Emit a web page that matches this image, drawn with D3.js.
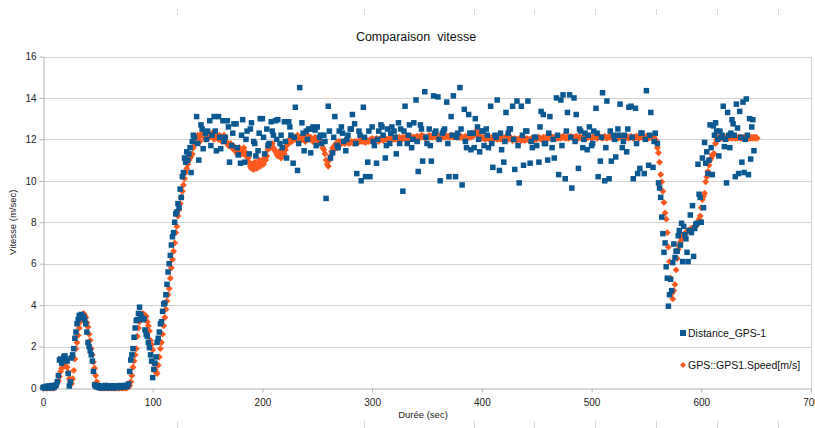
<!DOCTYPE html>
<html>
<head>
<meta charset="utf-8">
<script src="https://cdn.jsdelivr.net/npm/d3@7/dist/d3.min.js"></script>
<style>
  html, body { margin: 0; padding: 0; background: #fff; }
  svg { display: block; font-family: "Liberation Sans", Arial, sans-serif; }
</style>
</head>
<body>
<svg id="chart" width="815" height="428"></svg>
<script>
// Series names and tick labels
var seriesNames = ["Distance_GPS-1", "GPS::GPS1.Speed[m/s]"];
var xTicks = [0, 100, 200, 300, 400, 500, 600, 700];
var yTicks = [0, 2, 4, 6, 8, 10, 12, 14, 16];

// Distance_GPS-1 : start phase, one sample per second, t = 0..135
var distStart = [
  0.02,0.05,0,0.08,0.03,0.1,0.05,0,0.12,0.06,
  0.02,0.1,0.15,0.3,0.6,1.35,1.4,1.2,1.35,1.5,
  1.55,1.4,1.3,0.7,0.1,0.3,1.45,1.6,1.9,2.4,
  2.7,3.1,3.3,3.5,3.5,3.55,3.4,3.45,3.3,3.1,
  2.7,2.2,2.0,1.8,1.6,1.3,0.8,0.15,0.1,0.05,
  0.12,0.02,0.08,0,0.1,0.05,0.03,0.12,0,0.07,
  0.1,0.02,0.05,0.11,0,0.08,0.04,0.1,0.02,0.06,
  0.12,0.03,0.08,0.1,0.05,0.13,0.07,0.1,0.2,0.8,
  1.35,1.6,1.9,2.45,2.9,3.25,3.3,3.6,3.9,3.55,
  3.4,3.3,3.35,2.8,2.6,2.5,2.2,1.95,1.6,1.3,
  0.5,0.9,1.2,1.5,2.2,2.4,2.7,3.1,3.2,3.7,
  4.05,4.1,4.5,5.0,5.6,6.0,6.4,6.9,7.3,7.5,
  8.0,8.4,8.5,8.9,8.7,9.6,9.2,10.2,10.4,11.1,
  10.9,11.4,11.0,11.3,11.6,10.4
];

// Distance_GPS-1 : cruise, one sample every 2 s, t = 136..558
var distCruise = [
  11.9,12.1,
  13.1,11.0,12.7,11.55,12.3,
  12.4,12.9,12.2,13.1,11.45,
  13.1,11.55,12.9,12.1,12.9,
  10.9,11.7,12.75,12.75,11.25,
  10.85,12.95,10.9,12.4,11.3,
  12.8,11.9,11.2,11.45,13.0,
  13.0,11.3,12.5,11.8,12.85,
  12.2,12.9,12.95,11.8,11.6,
  12.85,11.1,12.85,12.2,10.85,
  13.55,10.5,14.5,12.8,11.45,
  12.4,12.5,11.35,12.6,12.45,
  12.6,12.1,11.8,12.2,9.15,
  13.6,11.1,11.35,13.1,11.7,
  12.4,12.6,11.9,11.45,12.2,
  12.5,13.2,12.75,10.35,12.4,
  10.0,13.55,10.2,10.9,10.2,
  12.6,11.7,10.85,12.4,12.7,
  12.2,11.1,12.5,11.8,12.6,
  12.4,11.3,12.8,12.5,9.5,
  13.6,11.8,12.7,11.6,12.8,
  13.9,10.45,12.7,10.95,14.3,
  11.8,12.5,10.95,14.1,12.4,
  14.05,10.0,12.3,12.5,13.8,
  10.2,13.1,14.1,10.2,12.3,
  14.5,9.8,13.45,11.6,13.2,
  11.5,12.3,13.0,12.6,11.4,
  12.4,11.7,12.5,11.6,13.6,
  10.65,12.2,13.9,10.5,11.5,
  10.9,13.3,12.3,12.5,13.6,
  10.55,13.85,9.9,13.6,10.75,
  12.4,13.85,10.85,11.6,12.1,
  11.7,10.9,13.35,13.2,11.8,
  11.0,13.1,11.6,11.1,14.0,
  10.3,13.9,14.15,10.1,13.3,
  14.15,9.65,14.0,13.2,10.6,
  12.4,11.6,12.3,11.5,12.6,
  11.7,12.4,13.5,10.2,10.95,
  14.25,10.0,13.85,10.1,10.95,
  12.2,11.15,12.5,13.7,11.6,
  12.2,11.4,13.55,13.6,10.1,
  13.5,10.35,10.6,12.3,10.35,
  14.35,10.75,13.3,10.65,12.3
];

// Distance_GPS-1 : extra cruise samples at odd seconds, every 4 s, t = 137..557
var distCruiseOdd = [
  12.2,11.8,12.5,12.0,11.7,12.4,12.1,11.9,12.6,12.3,
  11.6,12.2,12.0,12.5,11.8,12.3,12.1,11.7,12.4,12.0,
  12.2,11.9,12.6,12.1,11.8,12.3,12.0,12.5,11.7,12.2,
  11.9,12.4,12.1,11.6,12.3,12.0,12.5,11.8,12.2,12.1,
  12.4,11.9,12.0,12.6,11.7,12.3,12.1,11.8,12.4,12.2,
  12.0,11.9,12.5,12.1,11.7,12.3,12.0,12.4,11.8,12.2,
  12.1,12.5,11.9,12.3,11.6,12.0,12.4,12.2,11.8,12.1,
  12.3,11.9,12.5,12.0,11.7,12.2,12.4,11.9,12.1,12.6,
  11.8,12.3,12.0,12.2,11.7,12.4,12.1,11.9,12.5,12.0,
  12.2,11.8,12.3,12.1,11.6,12.4,12.0,12.2,11.9,12.5,
  12.1,11.8,12.3,12.0,12.2,11.9
];

// Distance_GPS-1 : slowdown and restart, one sample per second, t = 560..648
var distEnd = [
  11.8,9.9,9.65,9.2,8.25,7.45,6.55,7.0,5.85,5.3,
  3.95,4.5,5.25,4.7,6.05,6.95,6.3,6.6,6.6,7.35,
  7.6,6.9,7.95,6.1,7.8,7.4,7.2,6.55,6.1,7.6,
  8.35,7.5,8.8,6.35,7.7,7.9,7.95,10.8,9.35,9.2,
  8.0,11.1,8.7,11.85,10.85,11.4,10.35,11.0,12.7,11.6,
  10.3,12.65,12.2,12.8,12.4,12.0,11.2,12.4,12.1,12.2,
  13.6,11.65,12.0,9.9,13.3,12.2,11.6,12.3,12.95,12.75,
  12.2,10.2,13.7,12.55,10.35,13.35,12.1,10.9,13.8,10.4,
  12.0,13.95,12.2,10.3,13.0,11.05,12.6,12.95,11.45
];

// GPS::GPS1.Speed[m/s], one sample per second, t = 0..651
var gpsSpeed = [
  0,0,0.02,0,0,0.03,0,0,0.04,0,
  0,0.05,0.15,0.25,0.35,0.55,0.8,0.95,1.0,1.05,
  1.1,1.05,1.0,0.75,0.45,0.3,0.2,0.45,0.85,1.4,
  1.9,2.2,2.55,2.9,3.2,3.45,3.55,3.6,3.5,3.4,
  3.15,2.95,2.6,2.3,1.9,1.6,1.25,0.95,0.6,0.3,
  0.1,0.02,0,0,0.01,0,0,0.02,0,0,
  0,0.01,0,0,0.02,0,0,0,0.01,0,
  0,0.02,0,0,0.01,0,0,0.03,0.05,0.12,
  0.3,0.6,1.0,1.3,1.6,1.9,2.5,2.9,3.2,3.4,
  3.55,3.6,3.55,3.5,3.45,3.2,3.0,2.75,2.3,2.1,
  1.85,1.2,0.9,0.75,0.7,1.1,1.5,1.9,2.2,2.6,
  3.0,3.4,3.8,4.2,4.5,4.8,5.3,5.8,6.2,6.6,
  7.0,7.5,7.8,8.3,8.6,8.9,9.2,9.5,9.8,10.1,
  10.4,10.6,10.8,11.0,11.1,11.2,11.3,11.6,11.8,12.0,
  12.1,12.2,12.1,11.9,12.2,12.3,12.2,12.1,12.0,12.2,
  12.3,12.2,12.1,12.2,12.3,12.2,12.0,12.1,12.2,12.1,
  12.0,12.2,12.1,11.9,12.0,12.2,12.1,11.9,11.8,11.7,
  11.7,11.8,11.6,11.7,11.5,11.6,11.4,11.3,11.5,11.6,
  11.4,11.3,11.5,11.6,11.4,11.2,11.3,11.1,10.9,10.7,
  10.6,10.8,10.55,10.9,10.7,10.6,10.8,11.0,10.7,10.9,
  11.0,10.8,11.1,11.0,11.2,11.5,11.7,11.6,11.7,11.8,
  11.6,11.5,11.4,11.3,11.2,11.4,11.3,11.1,11.2,11.4,
  11.3,11.5,11.7,11.9,11.8,12.0,12.1,11.9,12.0,12.1,
  12.0,12.1,12.2,12.0,11.9,12.0,12.1,12.2,12.0,11.9,
  12.1,12.2,12.1,12.0,12.1,12.0,11.9,12.0,12.1,12.0,
  12.0,11.9,12.0,11.9,11.8,11.6,11.5,11.3,11.0,10.8,
  10.7,11.0,11.2,11.4,11.6,11.5,11.7,11.8,11.6,11.9,
  11.85,11.9,11.8,11.85,11.9,11.8,11.85,11.9,11.85,11.8,
  11.85,11.9,11.85,11.8,11.9,11.85,11.9,11.85,11.9,11.95,
  11.9,11.95,11.9,11.95,11.85,11.9,11.95,11.9,11.95,12.0,
  12.05,12.0,11.95,12.0,12.05,12.0,11.9,12.0,12.05,12.0,
  11.95,12.0,12.05,12.0,12.0,11.95,12.05,12.0,12.1,12.0,
  12.05,12.0,12.1,12.05,12.0,12.1,12.05,12.0,12.1,12.05,
  12.1,12.05,12.1,12.0,12.1,12.15,12.05,12.1,12.1,12.05,
  12.1,12.15,12.1,12.05,12.1,12.2,12.1,12.15,12.1,12.05,
  12.1,12.15,12.2,12.1,12.15,12.1,12.2,12.15,12.1,12.15,
  12.2,12.1,12.15,12.2,12.1,12.15,12.1,12.2,12.15,12.1,
  12.15,12.1,12.2,12.15,12.1,12.15,12.2,12.1,12.15,12.1,
  12.1,12.15,12.1,12.05,12.1,12.15,12.1,12.05,12.1,12.15,
  12.1,12.2,12.15,12.25,12.3,12.4,12.35,12.2,12.1,12.05,
  12.1,12.05,12.1,12.0,12.05,12.1,12.05,12.0,12.05,12.1,
  12.05,12.0,12.1,12.05,12.0,12.05,12.1,12.0,12.05,12.0,
  12.05,12.1,12.0,12.05,12.0,12.05,12.1,12.0,11.95,12.0,
  12.05,12.0,11.95,12.0,12.05,12.0,11.95,12.0,12.0,11.95,
  12.0,12.05,12.0,11.95,12.0,12.05,12.0,11.95,12.0,12.05,
  12.0,12.05,12.1,12.05,12.0,12.05,12.1,12.05,12.1,12.05,
  12.1,12.05,12.1,12.15,12.05,12.1,12.05,12.1,12.05,12.1,
  12.05,12.1,12.05,12.1,12.15,12.1,12.05,12.1,12.1,12.05,
  12.1,12.15,12.1,12.05,12.1,12.1,12.15,12.1,12.05,12.1,
  12.1,12.05,12.1,12.15,12.1,12.05,12.1,12.1,12.15,12.1,
  12.05,12.1,12.1,12.15,12.1,12.05,12.1,12.15,12.1,12.1,
  12.05,12.1,12.15,12.1,12.05,12.1,12.1,12.15,12.1,12.05,
  12.1,12.1,12.15,12.1,12.05,12.1,12.15,12.1,12.1,12.05,
  12.1,12.15,12.1,12.1,12.05,12.1,12.15,12.1,12.05,12.1,
  12.1,12.15,12.1,12.05,12.1,12.15,12.1,12.1,12.05,12.1,
  12.15,12.1,12.05,12.1,12.1,12.1,12.05,12.1,12.0,11.9,
  11.6,11.35,10.9,10.3,9.95,9.5,8.95,8.45,8.15,7.5,
  6.8,6.1,5.3,4.55,4.3,4.7,5.0,5.7,6.25,6.7,
  6.9,7.05,7.2,7.35,7.4,7.45,7.5,7.55,7.6,7.6,
  7.65,7.7,7.7,7.75,7.8,7.8,7.9,8.0,8.15,8.3,
  8.7,9.1,9.25,9.4,9.95,10.2,10.45,10.75,11.0,11.1,
  11.25,11.3,11.3,11.8,12.0,12.1,12.05,12.1,12.05,12.1,
  12.05,12.1,12.1,12.05,12.1,12.05,12.1,12.1,12.05,12.1,
  12.1,12.05,12.1,12.05,12.1,12.1,12.05,12.1,12.05,12.1,
  12.1,12.05,12.1,12.05,12.1,12.05,12.1,12.05,12.1,12.05,
  12.1,12.05
];

var colors = ["#0a5891", "#ff5a1e"];

// (time, value) pairs for the blue series, from its sampling segments
var distPoints = [];
[[0, 1, distStart], [136, 2, distCruise], [137, 4, distCruiseOdd], [560, 1, distEnd]].forEach(function(seg) {
  seg[2].forEach(function(v, i) { distPoints.push([seg[0] + i * seg[1], v]); });
});
var speedPoints = gpsSpeed.map(function(v, i) { return [i, v]; });

var svg = d3.select("#chart");

// plot area edges
var plotLeft = 43, plotRight = 811, plotTop = 56.5, plotBottom = 388;

var x = d3.scaleLinear().domain([0, 700]).range([plotLeft, plotRight]);
var y = d3.scaleLinear().domain([0, 16]).range([plotBottom, plotTop]);

// faint page-break marks from the spreadsheet view
var marks = [177, 364, 474, 534, 595, 656, 717, 778];
svg.append("g").selectAll("line").data(marks).enter().append("line")
  .attr("x1", function(d) { return d + 0.5; }).attr("x2", function(d) { return d + 0.5; })
  .attr("y1", 9).attr("y2", 15)
  .attr("stroke", "#d8d8d8");
svg.append("g").selectAll("line").data(marks).enter().append("line")
  .attr("x1", function(d) { return d + 0.5; }).attr("x2", function(d) { return d + 0.5; })
  .attr("y1", 421).attr("y2", 428)
  .attr("stroke", "#d8d8d8");

// horizontal grid
svg.append("g").selectAll("line")
  .data(yTicks.filter(function(d) { return d > 0; }))
  .enter().append("line")
  .attr("x1", plotLeft).attr("x2", plotRight)
  .attr("y1", function(d) { return Math.round(y(d)) + 0.5; })
  .attr("y2", function(d) { return Math.round(y(d)) + 0.5; })
  .attr("stroke", "#d3d3d3")
  .attr("stroke-width", 1);

// right border of the plot area
svg.append("line")
  .attr("x1", plotRight + 0.5).attr("x2", plotRight + 0.5)
  .attr("y1", y(16)).attr("y2", y(0))
  .attr("stroke", "#d3d3d3");

// axes
var yAxis = svg.append("g")
  .attr("transform", "translate(" + (plotLeft + 0.5) + ",0)")
  .call(d3.axisLeft(y).tickValues(yTicks).tickSize(4).tickSizeOuter(0).tickPadding(3));
var xAxis = svg.append("g")
  .attr("transform", "translate(0," + (plotBottom + 0.5) + ")")
  .call(d3.axisBottom(x).tickValues(xTicks).tickSize(4).tickSizeOuter(0).tickPadding(6));

[xAxis, yAxis].forEach(function(a) {
  a.select(".domain").attr("stroke", "#b3b3b3");
  a.selectAll(".tick line").attr("stroke", "#b3b3b3");
  a.selectAll(".tick text")
    .attr("fill", "#222")
    .style("font-family", "'Liberation Sans', Arial, sans-serif")
    .style("font-size", "10px");
});

// series: orange first, blue drawn on top
var diamond = d3.symbol().type(d3.symbolSquare).size(24);

svg.append("g").selectAll("path")
  .data(speedPoints)
  .enter().append("path")
  .attr("d", diamond)
  .attr("transform", function(d) { return "translate(" + x(d[0]) + "," + y(d[1]) + ") rotate(45)"; })
  .attr("fill", colors[1]);

var sq = 5.5;
svg.append("g").selectAll("rect")
  .data(distPoints)
  .enter().append("rect")
  .attr("x", function(d) { return x(d[0]) - sq / 2; })
  .attr("y", function(d) { return y(d[1]) - sq / 2; })
  .attr("width", sq)
  .attr("height", sq)
  .attr("fill", colors[0]);

// title
svg.append("text")
  .attr("x", 416).attr("y", 41)
  .attr("text-anchor", "middle")
  .style("font-size", "12.5px")
  .style("white-space", "pre")
  .attr("fill", "#111")
  .text("Comparaison  vitesse");

// axis titles
svg.append("text")
  .attr("x", 423).attr("y", 418)
  .attr("text-anchor", "middle")
  .style("font-size", "9.5px")
  .attr("fill", "#222")
  .text("Durée (sec)");

svg.append("text")
  .attr("transform", "translate(16," + ((plotTop + plotBottom) / 2) + ") rotate(-90)")
  .attr("text-anchor", "middle")
  .style("font-size", "9.5px")
  .attr("fill", "#222")
  .text("Vitesse (m/sec)");

// legend
var legend = svg.append("g").attr("transform", "translate(680,0)");
legend.append("rect")
  .attr("x", 0).attr("y", 330).attr("width", 6).attr("height", 6)
  .attr("fill", colors[0]);
legend.append("text")
  .attr("x", 8).attr("y", 337)
  .style("font-size", "10.5px").attr("fill", "#111")
  .text(seriesNames[0]);
legend.append("path")
  .attr("d", d3.symbol().type(d3.symbolSquare).size(18))
  .attr("transform", "translate(3,365) rotate(45)")
  .attr("fill", colors[1]);
legend.append("text")
  .attr("x", 8).attr("y", 369)
  .style("font-size", "10.5px").attr("fill", "#111")
  .text(seriesNames[1]);
</script>
</body>
</html>
